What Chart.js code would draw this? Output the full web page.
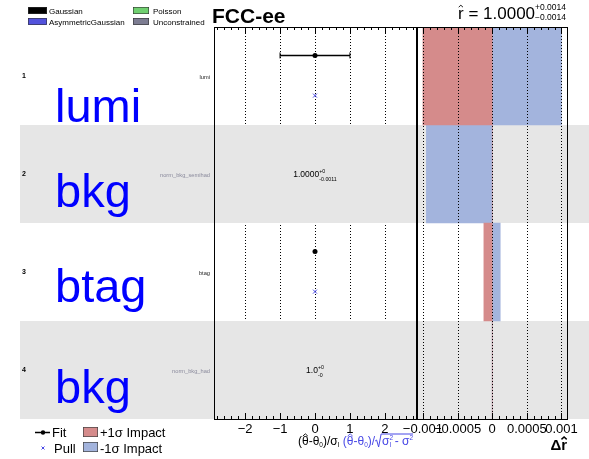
<!DOCTYPE html>
<html>
<head>
<meta charset="utf-8">
<script src="https://cdn.jsdelivr.net/npm/chart.js@4.4.1/dist/chart.umd.min.js"></script>
<style>
  html, body { margin: 0; padding: 0; background: #fff; }
  #wrap { position: relative; width: 589px; height: 459px; }
  #wrap canvas { position: absolute; left: 0; top: 0; }
</style>
</head>
<body>
<div id="wrap">
  <canvas id="pulls" width="589" height="459"></canvas>
  <canvas id="impacts" width="589" height="459"></canvas>
</div>
<script>
// ---- nuisance parameters, one row each (top to bottom) ----
const rowNumbers  = ['1', '2', '3', '4'];
const paramNames  = ['lumi', 'norm_bkg_semihad', 'btag', 'norm_bkg_had'];
const paramTypes  = ['Gaussian', 'Unconstrained', 'Gaussian', 'Unconstrained'];
const groupLabels = ['lumi', 'bkg', 'btag', 'bkg'];

// post-fit values of constrained parameters: (theta_hat - theta0)/sigma
const fitValues  = [0, null, 0, null];
const fitErrors  = [1, null, 0, null];
const pullValues = [0, null, 0, null];

// unconstrained rate parameters, printed as text
const rateValues = [null, '1.0000', null, '1.0'];
const rateUp     = [null, '+0', null, '+0'];
const rateDown   = [null, '-0.0011', null, '-0'];

// impacts on r-hat
const impactUp   = [-0.001, 0, -0.00012, 0];
const impactDown = [0.001, -0.00095, 0.000116, 0];

// axis ticks
const pullTickValues   = [-2, -1, 0, 1, 2];
const pullTickLabels   = ['\u22122', '\u22121', '0', '1', '2'];
const impactTickValues = [-0.001, -0.0005, 0, 0.0005, 0.001];
const impactTickLabels = ['\u22120.001', '\u22120.0005', '0', '0.0005', '0.001'];

// fitted signal strength
const rHat = '1.0000', rHatUp = '+0.0014', rHatDown = '\u22120.0014';

// constraint-type legend
const constraintTypes = ['Gaussian', 'AsymmetricGaussian', 'Poisson', 'Unconstrained'];

// ---- styles ----
const FONT = '"Liberation Sans", Arial, Helvetica, sans-serif';
const typeColors = {
  Gaussian: '#000000',
  AsymmetricGaussian: '#5252dc',
  Poisson: '#70d070',
  Unconstrained: '#7d7d92'
};
const nameColors = { Gaussian: '#1a1a1a', Unconstrained: '#8a8a9c' };
const BAND = '#e6e6e6';
const RED = 'rgb(213,139,139)';
const BLUE = 'rgb(163,180,221)';
const PULL_COLOR = '#4848e6';
const FIT_POS = 0.29;    // fraction of a row from its top
const PULL_POS = 0.70;
const LABEL_BASE = [0.965, 0.835, 0.81, 0.835];

function setFont(ctx, size, bold) {
  ctx.font = (bold ? 'bold ' : '') + size + 'px ' + FONT;
}
function caret(ctx, cx, y, w, color, lw) {
  ctx.save();
  ctx.strokeStyle = color;
  ctx.lineWidth = lw;
  ctx.beginPath();
  ctx.moveTo(cx - w / 2, y + w * 0.45);
  ctx.lineTo(cx, y);
  ctx.lineTo(cx + w / 2, y + w * 0.45);
  ctx.stroke();
  ctx.restore();
}
// draws a run of text pieces (sub/superscripts via dy), returns end x
function run(ctx, x, base, parts, color, dry) {
  let cx = x;
  ctx.textAlign = 'left';
  ctx.textBaseline = 'alphabetic';
  for (const p of parts) {
    setFont(ctx, p.size, p.bold);
    const w = ctx.measureText(p.t).width;
    if (!dry) {
      ctx.fillStyle = p.color || color;
      ctx.fillText(p.t, cx, base + (p.dy || 0));
      if (p.hat) caret(ctx, cx + w / 2, base + (p.dy || 0) - p.size * (p.hatH || 0.93), w * 0.75, p.color || color, 0.9);
    }
    if (!p.noAdv) cx += w;
  }
  return cx;
}

// ---- plugin for the pulls panel and page decorations ----
const pullDecor = {
  id: 'pullDecor',
  beforeDraw(chart) {
    const { ctx, chartArea: a, scales: { x, y } } = chart;
    ctx.save();
    // dotted grid lines
    ctx.strokeStyle = '#000';
    ctx.lineWidth = 1;
    ctx.setLineDash([1, 2]);
    pullTickValues.forEach(v => {
      const px = Math.round(x.getPixelForValue(v)) + 0.5;
      ctx.beginPath(); ctx.moveTo(px, a.top); ctx.lineTo(px, a.bottom); ctx.stroke();
    });
    ctx.setLineDash([]);
    // alternating row bands
    ctx.fillStyle = BAND;
    paramNames.forEach((n, i) => {
      if (i % 2 === 1) {
        const t = y.getPixelForValue(i), b = y.getPixelForValue(i + 1);
        ctx.fillRect(20, t, chart.width - 20, b - t);
      }
    });
    ctx.restore();
  },
  beforeDatasetsDraw(chart) {
    const { ctx, scales: { x, y } } = chart;
    ctx.save();
    ctx.strokeStyle = '#000';
    fitValues.forEach((v, i) => {
      if (v === null || !fitErrors[i]) return;
      const py = y.getPixelForValue(i + FIT_POS);
      const x0 = x.getPixelForValue(v - fitErrors[i]);
      const x1 = x.getPixelForValue(v + fitErrors[i]);
      ctx.lineWidth = 1.5;
      ctx.beginPath(); ctx.moveTo(x0, py); ctx.lineTo(x1, py); ctx.stroke();
      ctx.lineWidth = 1;
      ctx.beginPath();
      ctx.moveTo(x0, py - 3); ctx.lineTo(x0, py + 3);
      ctx.moveTo(x1, py - 3); ctx.lineTo(x1, py + 3);
      ctx.stroke();
    });
    ctx.restore();
  },
  afterDraw(chart) {
    const { ctx, chartArea: a, scales: { x, y } } = chart;
    ctx.save();
    // frame + tick marks
    ctx.strokeStyle = '#000';
    ctx.lineWidth = 1;
    ctx.strokeRect(Math.round(a.left) + 0.5, Math.round(a.top) + 0.5, Math.round(a.right - a.left), Math.round(a.bottom - a.top));
    ctx.beginPath();
    for (let v = -2.8; v <= 2.81; v += 0.2) {
      const px = Math.round(x.getPixelForValue(v)) + 0.5;
      const major = Math.abs(v - Math.round(v)) < 1e-6;
      const len = major ? 6 : 3;
      ctx.moveTo(px, a.top); ctx.lineTo(px, a.top + len);
      ctx.moveTo(px, a.bottom); ctx.lineTo(px, a.bottom - len);
    }
    ctx.stroke();

    // row labels
    paramNames.forEach((name, i) => {
      const cy = y.getPixelForValue(i + 0.5);
      ctx.textBaseline = 'middle';
      ctx.textAlign = 'left';
      setFont(ctx, 7, true);
      ctx.fillStyle = '#000';
      ctx.fillText(rowNumbers[i], 22, cy);
      setFont(ctx, 5.7, false);
      ctx.textAlign = 'right';
      ctx.fillStyle = nameColors[paramTypes[i]];
      ctx.fillText(name, 210, cy + 1);
      // group label
      const t = y.getPixelForValue(i), b = y.getPixelForValue(i + 1);
      ctx.textBaseline = 'alphabetic';
      ctx.textAlign = 'left';
      setFont(ctx, 47, false);
      ctx.fillStyle = '#0000ff';
      ctx.fillText(groupLabels[i], 55, t + (b - t) * LABEL_BASE[i]);
      // rate parameter value
      if (rateValues[i] !== null) {
        const x0 = x.getPixelForValue(0);
        const base = cy + 3;
        setFont(ctx, 8.5, false);
        const mw = ctx.measureText(rateValues[i]).width;
        setFont(ctx, 5.3, false);
        const sw = Math.max(ctx.measureText(rateUp[i]).width, ctx.measureText(rateDown[i]).width);
        const sx = x0 - (mw + sw) / 2;
        run(ctx, sx, base, [{ t: rateValues[i], size: 8.5 }], '#000');
        run(ctx, sx + mw, base - 4.5, [{ t: rateUp[i], size: 5.3 }], '#000');
        run(ctx, sx + mw, base + 3.5, [{ t: rateDown[i], size: 5.3 }], '#000');
      }
    });

    // constraint-type legend
    const boxes = [[28, 7, 19], [28, 18, 19], [133, 7, 16], [133, 18, 16]];
    const texX = [49, 49, 153, 153];
    constraintTypes.forEach((c, k) => {
      const [bx, by, bw] = boxes[k];
      ctx.fillStyle = typeColors[c];
      ctx.fillRect(bx, by, bw, 7);
      ctx.strokeStyle = '#333';
      ctx.lineWidth = 0.6;
      ctx.strokeRect(bx + 0.3, by + 0.3, bw - 0.6, 6.4);
      setFont(ctx, 8, false);
      ctx.fillStyle = '#000';
      ctx.textAlign = 'left';
      ctx.textBaseline = 'alphabetic';
      ctx.fillText(c, texX[k], by + 6.5);
    });

    // header
    setFont(ctx, 21, true);
    ctx.fillStyle = '#000';
    ctx.fillText('FCC-ee', 212, 23);

    setFont(ctx, 8.5, false);
    const scw = Math.max(ctx.measureText(rHatUp).width, ctx.measureText(rHatDown).width);
    const mainParts = [{ t: 'r', size: 17, hat: true, hatH: 0.78 }, { t: ' = ' + rHat, size: 17 }];
    const mw = run(ctx, 0, 0, mainParts, '#000', true);
    const rx = 566 - scw - mw;
    run(ctx, rx, 18.5, mainParts, '#000');
    run(ctx, rx + mw, 10, [{ t: rHatUp, size: 8.5 }], '#000');
    run(ctx, rx + mw, 20, [{ t: rHatDown, size: 8.5 }], '#000');

    // x-axis title of the pulls panel
    const tb = 445;
    let tx = run(ctx, 298, tb, [
      { t: '(', size: 12 }, { t: '\u03b8', size: 12, hat: true }, { t: '-\u03b8', size: 12 },
      { t: '0', size: 6.5, dy: 2 }, { t: ')/\u03c3', size: 12 }, { t: 'I', size: 6.5, dy: 2 }, { t: ' ', size: 12 }
    ], '#000');
    tx = run(ctx, tx, tb, [
      { t: '(', size: 12 }, { t: '\u03b8', size: 12, hat: true }, { t: '-\u03b8', size: 12 },
      { t: '0', size: 6.5, dy: 2 }, { t: ')/', size: 12 }
    ], PULL_COLOR);
    const radicand = [
      { t: '\u03c3', size: 12 }, { t: '2', size: 6.5, dy: -5, noAdv: true }, { t: 'I', size: 6.5, dy: 2 },
      { t: ' - \u03c3', size: 12 }, { t: '2', size: 6.5, dy: -5 }
    ];
    const rw = run(ctx, 0, 0, radicand, PULL_COLOR, true);
    ctx.strokeStyle = PULL_COLOR;
    ctx.lineWidth = 1;
    ctx.beginPath();
    ctx.moveTo(tx, tb - 4);
    ctx.lineTo(tx + 1.5, tb - 5);
    ctx.lineTo(tx + 3.5, tb + 2);
    ctx.lineTo(tx + 6, tb - 11);
    ctx.lineTo(tx + 7 + rw, tb - 11);
    ctx.stroke();
    run(ctx, tx + 7, tb, radicand, PULL_COLOR);

    // bottom legend: fit / pull
    ctx.strokeStyle = '#000';
    ctx.lineWidth = 1.5;
    ctx.beginPath(); ctx.moveTo(35, 432.5); ctx.lineTo(50, 432.5); ctx.stroke();
    ctx.fillStyle = '#000';
    ctx.beginPath(); ctx.arc(43, 432.5, 2.2, 0, Math.PI * 2); ctx.fill();
    setFont(ctx, 13, false);
    ctx.textAlign = 'left';
    ctx.fillText(chart.data.datasets[0].label, 52, 437);
    ctx.strokeStyle = PULL_COLOR;
    ctx.lineWidth = 1;
    ctx.beginPath();
    ctx.moveTo(41.5, 446.5); ctx.lineTo(44.5, 449.5);
    ctx.moveTo(44.5, 446.5); ctx.lineTo(41.5, 449.5);
    ctx.stroke();
    ctx.fillStyle = '#000';
    ctx.fillText(chart.data.datasets[1].label, 54, 452.5);
    ctx.restore();
  }
};

const pullChart = new Chart(document.getElementById('pulls'), {
  type: 'scatter',
  data: {
    datasets: [
      {
        label: 'Fit',
        data: fitValues.map((v, i) => v === null ? null : { x: v, y: i + FIT_POS }).filter(Boolean),
        pointRadius: 2.5,
        pointBackgroundColor: '#000',
        pointBorderColor: '#000',
        pointBorderWidth: 0
      },
      {
        label: 'Pull',
        data: pullValues.map((v, i) => v === null ? null : { x: v, y: i + PULL_POS }).filter(Boolean),
        pointStyle: 'crossRot',
        pointRadius: 2.8,
        pointBorderColor: PULL_COLOR,
        pointBorderWidth: 1
      }
    ]
  },
  options: {
    responsive: false,
    animation: false,
    devicePixelRatio: 1,
    layout: { padding: { left: 214, right: 173, top: 27, bottom: 0 } },
    plugins: { legend: { display: false }, tooltip: { enabled: false } },
    scales: {
      x: {
        type: 'linear',
        min: -2.89, max: 2.89,
        afterBuildTicks: s => { s.ticks = pullTickValues.map(v => ({ value: v })); },
        afterFit: s => { s.height = 40; },
        grid: { display: false, drawTicks: false },
        border: { display: false },
        ticks: {
          autoSkip: false, maxRotation: 0, minRotation: 0, padding: 3,
          color: '#000', font: { family: FONT, size: 13 },
          callback: (v, i) => pullTickLabels[i]
        }
      },
      y: { type: 'linear', min: 0, max: 4, reverse: true, display: false }
    }
  },
  plugins: [pullDecor]
});

// ---- plugin for the impacts panel ----
const impactDecor = {
  id: 'impactDecor',
  afterDatasetsDraw(chart) {
    const { ctx, chartArea: a, scales: { x } } = chart;
    ctx.save();
    ctx.strokeStyle = '#000';
    ctx.lineWidth = 1;
    ctx.setLineDash([1, 2]);
    impactTickValues.forEach(v => {
      const px = Math.round(x.getPixelForValue(v)) + 0.5;
      ctx.beginPath(); ctx.moveTo(px, a.top); ctx.lineTo(px, a.bottom); ctx.stroke();
    });
    ctx.setLineDash([]);
    ctx.strokeRect(Math.round(a.left) + 0.5, Math.round(a.top) + 0.5, Math.round(a.right - a.left), Math.round(a.bottom - a.top));
    ctx.lineWidth = 2;
    ctx.beginPath(); ctx.moveTo(Math.round(a.left) + 1, a.top); ctx.lineTo(Math.round(a.left) + 1, a.bottom + 0.5); ctx.stroke();
    ctx.lineWidth = 1;
    ctx.beginPath();
    for (let k = -10; k <= 10; k++) {
      const px = Math.round(x.getPixelForValue(k * 0.0001)) + 0.5;
      const len = k % 5 === 0 ? 6 : 3;
      ctx.moveTo(px, a.top); ctx.lineTo(px, a.top + len);
      ctx.moveTo(px, a.bottom); ctx.lineTo(px, a.bottom - len);
    }
    ctx.stroke();

    // axis title
    setFont(ctx, 15, true);
    ctx.fillStyle = '#000';
    ctx.textAlign = 'right';
    ctx.textBaseline = 'alphabetic';
    ctx.fillText('\u0394r', 567, 450);
    const rW = ctx.measureText('r').width;
    caret(ctx, 567 - rW / 2, 437, rW * 0.9, '#000', 1.4);

    // bottom legend: impact boxes
    const ds = chart.data.datasets;
    [[427, 437], [442, 452.5]].forEach(([by, tyb], k) => {
      ctx.fillStyle = ds[k].backgroundColor;
      ctx.fillRect(83, by, 15, 10);
      ctx.strokeStyle = '#444';
      ctx.lineWidth = 0.7;
      ctx.strokeRect(83.35, by + 0.35, 14.3, 9.3);
      setFont(ctx, 13, false);
      ctx.fillStyle = '#000';
      ctx.textAlign = 'left';
      ctx.fillText(ds[k].label, 100, tyb);
    });
    ctx.restore();
  }
};

const impactChart = new Chart(document.getElementById('impacts'), {
  type: 'bar',
  data: {
    labels: paramNames,
    datasets: [
      {
        label: '+1\u03c3 Impact',
        data: impactUp,
        backgroundColor: RED,
        borderWidth: 0,
        grouped: false,
        barPercentage: 1,
        categoryPercentage: 1
      },
      {
        label: '-1\u03c3 Impact',
        data: impactDown,
        backgroundColor: BLUE,
        borderWidth: 0,
        grouped: false,
        barPercentage: 1,
        categoryPercentage: 1
      }
    ]
  },
  options: {
    indexAxis: 'y',
    responsive: false,
    animation: false,
    devicePixelRatio: 1,
    layout: { padding: { left: 416, right: 22, top: 27, bottom: 0 } },
    plugins: { legend: { display: false }, tooltip: { enabled: false } },
    scales: {
      x: {
        type: 'linear',
        min: -0.0011, max: 0.00108,
        afterBuildTicks: s => { s.ticks = impactTickValues.map(v => ({ value: v })); },
        afterFit: s => { s.height = 40; },
        grid: { display: false, drawTicks: false },
        border: { display: false },
        ticks: {
          autoSkip: false, maxRotation: 0, minRotation: 0, padding: 3,
          color: '#000', font: { family: FONT, size: 13 },
          callback: (v, i) => impactTickLabels[i]
        }
      },
      y: { type: 'category', offset: true, display: false }
    }
  },
  plugins: [impactDecor]
});
</script>
</body>
</html>
